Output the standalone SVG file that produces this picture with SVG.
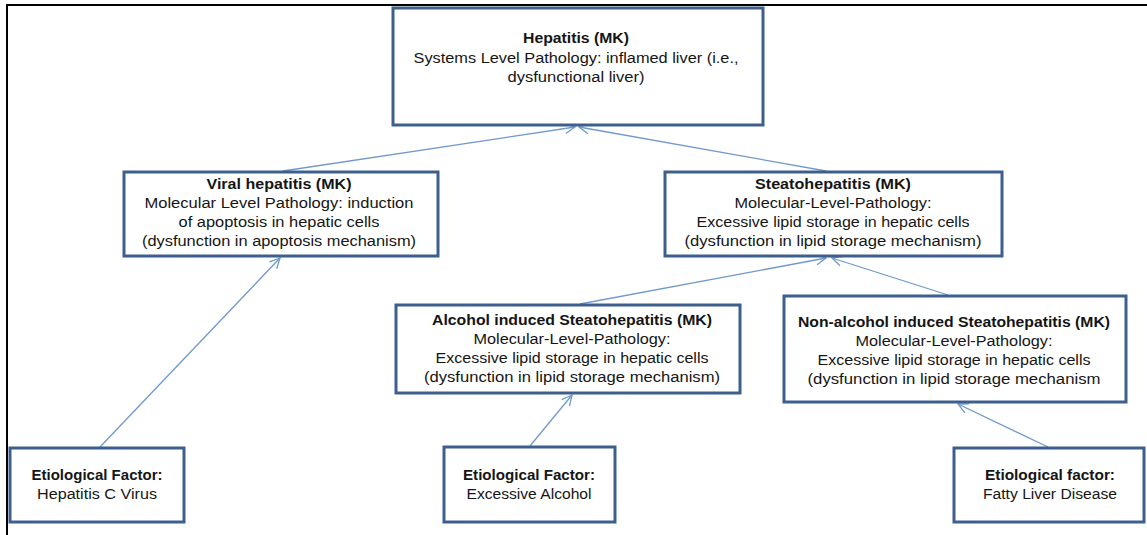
<svg xmlns="http://www.w3.org/2000/svg" width="1147" height="535" viewBox="0 0 1147 535">
  <style>
    .box { fill: #ffffff; stroke: #3d5f8e; stroke-width: 3; }
    .t { font-family: "Liberation Sans", Arial, sans-serif; font-size: 14px; fill: #151515; text-anchor: middle; }
    .b { font-weight: bold; }
    .edge { stroke: #7099cc; stroke-width: 1.3; fill: none; marker-end: url(#arrow); }
    .frame { stroke: #000; stroke-width: 2; fill: none; }
  </style>
  <defs>
    <marker id="arrow" viewBox="0 0 12 12" refX="11" refY="6" markerWidth="12" markerHeight="12" markerUnits="userSpaceOnUse" orient="auto">
      <path d="M1,1 L11,6 L1,11" fill="none" stroke="#7099cc" stroke-width="1.3"/>
    </marker>
  </defs>

  <rect width="1147" height="535" fill="#ffffff"/>
  <!-- outer frame -->
  <path class="frame" d="M7,535 V5 H1147"/>

  <g id="connectors">
    <line class="edge" x1="283" y1="171" x2="575" y2="127"/>
    <line class="edge" x1="826" y1="171" x2="579" y2="127"/>
    <line class="edge" x1="100" y1="447" x2="280" y2="258"/>
    <line class="edge" x1="580" y1="304" x2="826" y2="258"/>
    <line class="edge" x1="948" y1="295" x2="832" y2="258"/>
    <line class="edge" x1="530" y1="446" x2="572" y2="395"/>
    <line class="edge" x1="1048" y1="447" x2="958" y2="404"/>
  </g>

  <g id="hepatitis">
    <rect class="box" x="393" y="8" width="370" height="117"/>
    <text class="t b" x="576" y="43" textLength="106" lengthAdjust="spacingAndGlyphs">Hepatitis (MK)</text>
    <text class="t" x="576" y="63" textLength="325" lengthAdjust="spacingAndGlyphs">Systems Level Pathology: inflamed liver (i.e.,</text>
    <text class="t" x="576" y="82" textLength="137" lengthAdjust="spacingAndGlyphs">dysfunctional liver)</text>
  </g>

  <g id="viral-hepatitis">
    <rect class="box" x="124" y="172" width="314" height="84"/>
    <text class="t b" x="279" y="189" textLength="145" lengthAdjust="spacingAndGlyphs">Viral hepatitis (MK)</text>
    <text class="t" x="279" y="208" textLength="269" lengthAdjust="spacingAndGlyphs">Molecular Level Pathology: induction</text>
    <text class="t" x="279" y="227" textLength="201" lengthAdjust="spacingAndGlyphs">of apoptosis in hepatic cells</text>
    <text class="t" x="279" y="246" textLength="274" lengthAdjust="spacingAndGlyphs">(dysfunction in apoptosis mechanism)</text>
  </g>

  <g id="steatohepatitis">
    <rect class="box" x="665" y="172" width="337" height="84"/>
    <text class="t b" x="833" y="189" textLength="156" lengthAdjust="spacingAndGlyphs">Steatohepatitis (MK)</text>
    <text class="t" x="833" y="208" textLength="197" lengthAdjust="spacingAndGlyphs">Molecular-Level-Pathology:</text>
    <text class="t" x="833" y="227" textLength="273" lengthAdjust="spacingAndGlyphs">Excessive lipid storage in hepatic cells</text>
    <text class="t" x="833" y="246" textLength="297" lengthAdjust="spacingAndGlyphs">(dysfunction in lipid storage mechanism)</text>
  </g>

  <g id="alcohol-steatohepatitis">
    <rect class="box" x="396" y="305" width="344" height="88"/>
    <text class="t b" x="572" y="325" textLength="280" lengthAdjust="spacingAndGlyphs">Alcohol induced Steatohepatitis (MK)</text>
    <text class="t" x="572" y="344" textLength="197" lengthAdjust="spacingAndGlyphs">Molecular-Level-Pathology:</text>
    <text class="t" x="572" y="363" textLength="273" lengthAdjust="spacingAndGlyphs">Excessive lipid storage in hepatic cells</text>
    <text class="t" x="572" y="382" textLength="296" lengthAdjust="spacingAndGlyphs">(dysfunction in lipid storage mechanism)</text>
  </g>

  <g id="nonalcohol-steatohepatitis">
    <rect class="box" x="784" y="296" width="342" height="106"/>
    <text class="t b" x="954" y="327" textLength="312" lengthAdjust="spacingAndGlyphs">Non-alcohol induced Steatohepatitis (MK)</text>
    <text class="t" x="954" y="346" textLength="197" lengthAdjust="spacingAndGlyphs">Molecular-Level-Pathology:</text>
    <text class="t" x="954" y="365" textLength="273" lengthAdjust="spacingAndGlyphs">Excessive lipid storage in hepatic cells</text>
    <text class="t" x="954" y="384" textLength="293" lengthAdjust="spacingAndGlyphs">(dysfunction in lipid storage mechanism</text>
  </g>

  <g id="factor-hcv">
    <rect class="box" x="10" y="448" width="174" height="74"/>
    <text class="t b" x="97" y="480" textLength="131" lengthAdjust="spacingAndGlyphs">Etiological Factor:</text>
    <text class="t" x="97" y="499" textLength="120" lengthAdjust="spacingAndGlyphs">Hepatitis C Virus</text>
  </g>

  <g id="factor-alcohol">
    <rect class="box" x="444" y="447" width="171" height="75"/>
    <text class="t b" x="529" y="480" textLength="132" lengthAdjust="spacingAndGlyphs">Etiological Factor:</text>
    <text class="t" x="529" y="499" textLength="125" lengthAdjust="spacingAndGlyphs">Excessive Alcohol</text>
  </g>

  <g id="factor-fatty-liver">
    <rect class="box" x="954" y="448" width="190" height="74"/>
    <text class="t b" x="1050" y="480" textLength="130" lengthAdjust="spacingAndGlyphs">Etiological factor:</text>
    <text class="t" x="1050" y="499" textLength="134" lengthAdjust="spacingAndGlyphs">Fatty Liver Disease</text>
  </g>
</svg>
